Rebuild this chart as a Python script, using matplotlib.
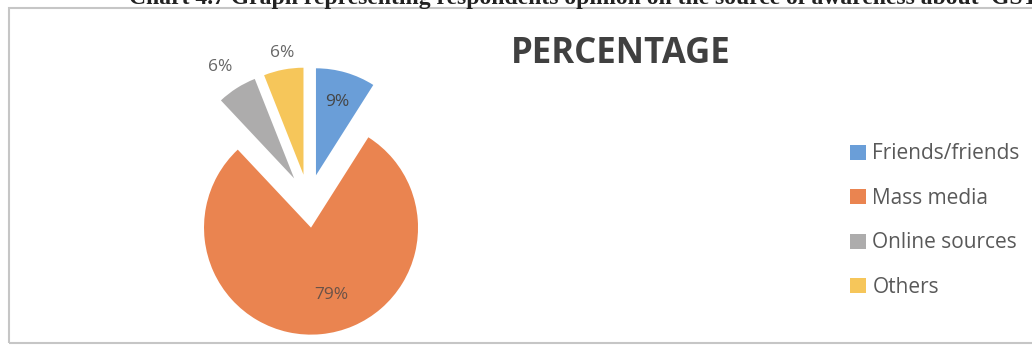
import numpy as np
import matplotlib
matplotlib.use("Agg")
import matplotlib.pyplot as plt
from matplotlib.patches import Rectangle

# Source of awareness about GST
sources = ["Friends/friends", "Mass media", "Online sources", "Others"]
shares = [9, 79, 6, 6]
colors = ["#6a9ed8", "#ea8450", "#adacac", "#f6c65a"]
pct_labels = ["9%", "79%", "6%", "6%"]

caption = "Chart 4.7 Graph representing respondents opinion on the source of awareness about 'GST'"
title = "PERCENTAGE"

W, H = 1032, 349
R = 107.0            # pie radius in pixels
cx, cy = 308.5, 201  # pie centre, pixels from top-left
explode = 0.25

fig = plt.figure(figsize=(W / 100, H / 100), dpi=100)
ax = fig.add_axes([0, 0, 1, 1])

wedges, _ = ax.pie(shares, colors=colors, startangle=90, counterclock=False,
                   explode=[explode] * len(shares), radius=1,
                   wedgeprops=dict(linewidth=0))
ax.set_xlim(-cx / R, (W - cx) / R)
ax.set_ylim(-(H - cy) / R, cy / R)
ax.set_aspect("auto")
ax.axis("off")

# percentage labels: distance past the explode offset and angle nudge
label_r = [0.71, 0.66, 1.25, 1.15]
label_dtheta = [0, 11, 1, -1]
label_colors = ["#454545", "#6a5248", "#666666", "#666666"]
for w, txt, lr, dt, c in zip(wedges, pct_labels, label_r, label_dtheta, label_colors):
    mid = np.deg2rad((w.theta1 + w.theta2) / 2)
    ex, ey = explode * np.cos(mid), explode * np.sin(mid)
    a = mid + np.deg2rad(dt)
    ax.text(ex + lr * np.cos(a), ey + lr * np.sin(a), txt, ha="center", va="center",
            fontsize=12.5, color=c, family="Open Sans")

fig.text(621 / W, 1 - 54 / H, title, ha="center", va="center", fontsize=25,
         fontweight="bold", color="#404040", family="Open Sans")

leg = fig.legend(wedges, sources, loc="upper left", bbox_to_anchor=(840 / W, 1 - 133 / H),
                 frameon=False, prop=dict(family="Open Sans", size=15),
                 handlelength=0.75, handleheight=0.75, handletextpad=0.3,
                 labelspacing=1.13, borderpad=0)
for t in leg.get_texts():
    t.set_color("#595959")

# chart border and the document caption running along the top edge
fig.patches.append(Rectangle((9 / W, 6 / H), 1.2, 335 / H, transform=fig.transFigure,
                             fill=False, ec="#c6c6c6", lw=1.5))
fig.text(1045 / W, 1 - 4 / H, caption, ha="right", va="baseline", fontsize=17,
         fontweight="bold", family="Liberation Serif", color="#222222")

fig.savefig("out.png", dpi=100, facecolor="white")
